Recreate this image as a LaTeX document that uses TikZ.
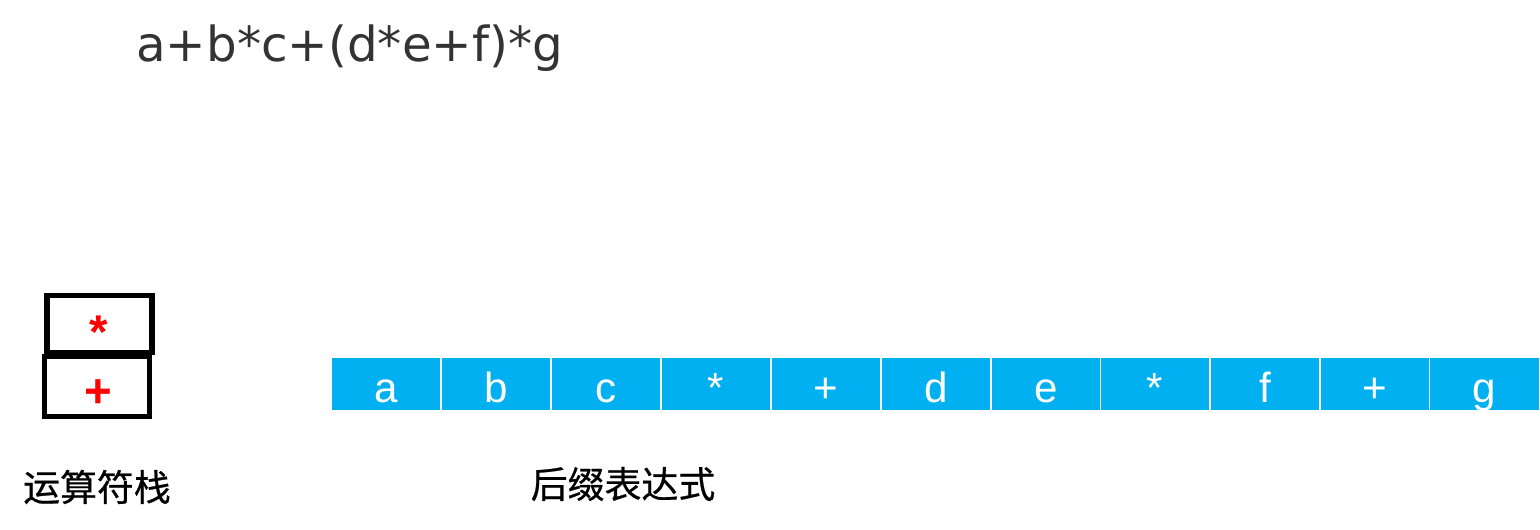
\documentclass[tikz,border=0pt]{standalone}
\usepackage{fontspec}
\setmainfont{Liberation Sans}
\newfontfamily\cjk[FakeBold=0.6]{Noto Sans CJK SC}
\newfontfamily\exprfont{DejaVu Sans}
\usepackage{tikz}
\usetikzlibrary{positioning}
\definecolor{cellblue}{HTML}{00B0F0}
\definecolor{exprgray}{HTML}{333333}
\tikzset{
  cell/.style={
    rectangle, fill=cellblue, draw=white, line width=0.6pt,
    minimum width=2.2cm, minimum height=1.08cm, inner sep=0pt,
    text height=0.72cm, text depth=0cm,
    font=\fontsize{24}{24}\selectfont, text=white
  },
  stackbox/.style={
    rectangle, draw=black, line width=3pt, fill=white,
    minimum width=2.1cm, inner sep=0pt
  },
  opsym/.style={
    anchor=base, inner sep=0pt,
    font=\bfseries\fontsize{27}{27}\selectfont, text=red
  },
  caption/.style={font=\cjk\fontsize{21}{21}\selectfont, text=black},
}

\begin{document}
\begin{tikzpicture}[x=0.02cm, y=-0.02cm]
      \useasboundingbox (0,0) rectangle (1540,530);
      % infix expression
      \node[font=\exprfont\fontsize{27.5}{27.5}\selectfont, text=exprgray,
            anchor=base west, inner sep=0pt](expr)at(136,62){a+b*c+(d*e+f)*g};
      % operator stack
      \node[stackbox, minimum height=1.14cm](top)at(99.5,324){};
      \node[stackbox, minimum height=1.2cm](bottom)at(97,386.5){};
      \node[opsym](topsym)at(98.5,348){*};
      \node[opsym](bottomsym)at(98,407){+};
      \node[caption](stacklabel)at(97,487){运算符栈};
      % postfix output
      \node[cell](p1)at(386.5,384){a};
      \node[cell](p2)at(496,384){b};
      \node[cell](p3)at(606,384){c};
      \node[cell](p4)at(716,384){*};
      \node[cell](p5)at(826,384){+};
      \node[cell](p6)at(936,384){d};
      \node[cell](p7)at(1046,384){e};
      \node[cell](p8)at(1155,384){*};
      \node[cell](p9)at(1265,384){f};
      \node[cell](p10)at(1375,384){+};
      \node[cell](p11)at(1484.5,384){g};
      \node[caption](postlabel)at(623,484){后缀表达式};
    \end{tikzpicture}
\end{document}
